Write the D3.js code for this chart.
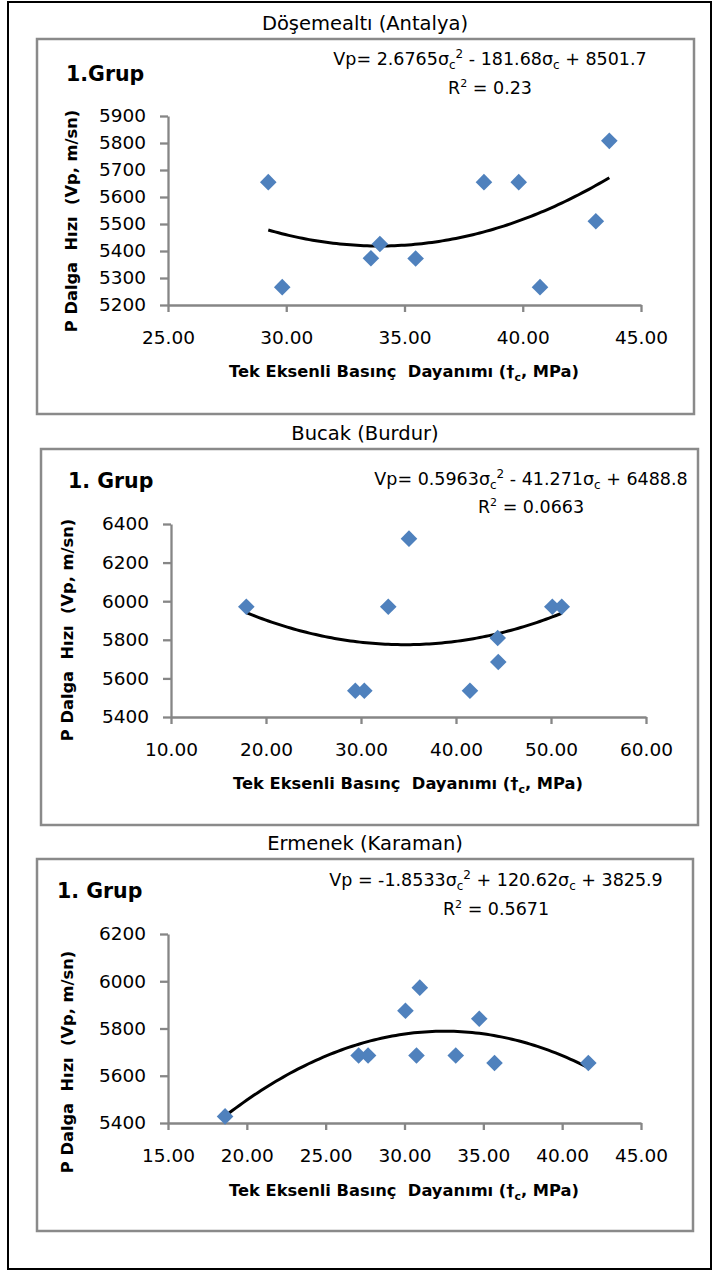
<!DOCTYPE html>
<html>
<head>
<meta charset="utf-8">
<script src="https://cdn.jsdelivr.net/npm/d3@7"></script>
<style>
  body { margin: 0; background: #fff; }
  svg { display: block; }
  .axis path, .axis line { stroke: #868686; stroke-width: 2.3; fill: none; }
  .axis text { font: 18.5px "DejaVu Sans"; fill: #000; }
  .ttl { font: 19.5px "DejaVu Sans"; }
  .eq { font: 17.5px "DejaVu Sans"; }
  .grp { font: bold 20.5px "DejaVu Sans"; }
  .atitle { font: bold 16.3px "DejaVu Sans"; }
</style>
</head>
<body>
<svg id="chart" width="715" height="1271"></svg>
<script>
// chart values
const siteTitles = ['Döşemealtı (Antalya)', 'Bucak (Burdur)', 'Ermenek (Karaman)'];
const groupLabels = ['1.Grup', '1. Grup', '1. Grup'];
const eqPrefix = ['Vp= ', 'Vp= ', 'Vp = '];
const eqA = ['2.6765', '0.5963', '-1.8533'];
const eqB = [' - 181.68', ' - 41.271', ' + 120.62'];
const eqC = [' + 8501.7', ' + 6488.8', ' + 3825.9'];
const r2Labels = ['0.23', '0.0663', '0.5671'];
const trendCoefs = [
  [2.6765, -181.68, 8501.7],
  [0.5963, -41.271, 6488.8],
  [-1.8533, 120.62, 3825.9]
];

const xTicks1 = [25, 30, 35, 40, 45];
const yTicks1 = [5200, 5300, 5400, 5500, 5600, 5700, 5800, 5900];
const sigma1 = [29.24, 29.83, 33.58, 33.96, 35.47, 38.36, 39.83, 40.73, 43.09, 43.66];
const vp1 = [5655, 5266, 5373, 5426, 5372, 5655, 5655, 5266, 5510, 5808];

const xTicks2 = [10, 20, 30, 40, 50, 60];
const yTicks2 = [5400, 5600, 5800, 6000, 6200, 6400];
const sigma2 = [17.93, 29.40, 30.35, 32.87, 35.05, 41.47, 44.39, 44.45, 50.14, 51.13];
const vp2 = [5971, 5536, 5536, 5971, 6324, 5536, 5809, 5685, 5971, 5971];

const xTicks3 = [15, 20, 25, 30, 35, 40, 45];
const yTicks3 = [5400, 5600, 5800, 6000, 6200];
const sigma3 = [18.62, 27.09, 27.69, 30.06, 30.76, 30.97, 33.25, 34.74, 35.71, 41.66];
const vp3 = [5428, 5686, 5686, 5875, 5686, 5973, 5686, 5841, 5654, 5654];

const xTickSets = [xTicks1, xTicks2, xTicks3];
const yTickSets = [yTicks1, yTicks2, yTicks3];
const sigmaSets = [sigma1, sigma2, sigma3];
const vpSets = [vp1, vp2, vp3];

// layout of the three panels (pixels)
const layout = [
  { box: [37, 39, 657, 375], titleY: 29.5, groupX: 66, groupY: 80.5, eqX: 490, eqY: 64.5, r2Y: 93.5,
    x0: 168, x1: 641, yTop: 116, yBot: 305, yTitleX: 77, yTitleY: 221, xTitleX: 404, xTitleY: 377 },
  { box: [41, 449, 657, 376], titleY: 440, groupX: 68, groupY: 487.5, eqX: 531, eqY: 484.5, r2Y: 512.5,
    x0: 171, x1: 646, yTop: 524, yBot: 717, yTitleX: 73, yTitleY: 630, xTitleX: 408, xTitleY: 789 },
  { box: [37, 859, 656, 372], titleY: 850, groupX: 57, groupY: 897.5, eqX: 496, eqY: 885.5, r2Y: 914.5,
    x0: 168, x1: 641, yTop: 934, yBot: 1123, yTitleX: 73, yTitleY: 1062, xTitleX: 404, xTitleY: 1196 }
];

const svg = d3.select('#chart');
svg.append('rect').attr('width', 715).attr('height', 1271).attr('fill', '#fff');
svg.append('rect')
  .attr('x', 8).attr('y', 2).attr('width', 703).attr('height', 1267)
  .attr('fill', 'none').attr('stroke', '#000').attr('stroke-width', 2);

const diamond = d3.symbol(d3.symbolSquare, 138);

layout.forEach((L, i) => {
  const g = svg.append('g');
  const xt = xTickSets[i], yt = yTickSets[i];

  g.append('text').attr('class', 'ttl')
    .attr('x', 365).attr('y', L.titleY).attr('text-anchor', 'middle')
    .text(siteTitles[i]);

  g.append('rect')
    .attr('x', L.box[0]).attr('y', L.box[1]).attr('width', L.box[2]).attr('height', L.box[3])
    .attr('fill', '#fff').attr('stroke', '#8a8a8a').attr('stroke-width', 2.5);

  const x = d3.scaleLinear().domain([xt[0], xt[xt.length - 1]]).range([L.x0, L.x1]);
  const y = d3.scaleLinear().domain([yt[0], yt[yt.length - 1]]).range([L.yBot, L.yTop]);

  g.append('g').attr('class', 'axis')
    .attr('transform', 'translate(0,' + L.yBot + ')')
    .call(d3.axisBottom(x).tickValues(xt).tickSize(7).tickSizeOuter(0).tickFormat(d3.format('.2f')))
    .selectAll('text').attr('y', 38.5).attr('dy', null);

  g.append('g').attr('class', 'axis')
    .attr('transform', 'translate(' + L.x0 + ',0)')
    .call(d3.axisLeft(y).tickValues(yt).tickSize(8).tickSizeOuter(0).tickPadding(14).tickFormat(d3.format('d')));

  // fitted polynomial trendline, drawn over the data range
  const c = trendCoefs[i];
  const xs = sigmaSets[i], ys = vpSets[i];
  const ext = d3.extent(xs);
  const curve = d3.range(0, 101).map(k => {
    const s = ext[0] + (ext[1] - ext[0]) * k / 100;
    return [s, c[0] * s * s + c[1] * s + c[2]];
  });
  g.append('path')
    .datum(curve)
    .attr('fill', 'none').attr('stroke', '#000').attr('stroke-width', 3)
    .attr('d', d3.line().x(d => x(d[0])).y(d => y(d[1])));

  g.append('g').selectAll('path')
    .data(xs.map((s, k) => [s, ys[k]]))
    .join('path')
    .attr('d', diamond)
    .attr('fill', '#4f81bd')
    .attr('transform', d => 'translate(' + x(d[0]) + ',' + y(d[1]) + ') rotate(45)');

  g.append('text').attr('class', 'grp')
    .attr('x', L.groupX).attr('y', L.groupY).text(groupLabels[i]);

  const eq = g.append('text').attr('class', 'eq')
    .attr('x', L.eqX).attr('y', L.eqY).attr('text-anchor', 'middle');
  eq.append('tspan').text(eqPrefix[i] + eqA[i] + 'σ');
  eq.append('tspan').attr('font-size', 12).attr('dy', 4).text('c');
  eq.append('tspan').attr('font-size', 12).attr('dy', -11).text('2');
  eq.append('tspan').attr('dy', 7).text(eqB[i] + 'σ');
  eq.append('tspan').attr('font-size', 12).attr('dy', 4).text('c');
  eq.append('tspan').attr('dy', -4).text(eqC[i]);

  const r2 = g.append('text').attr('class', 'eq')
    .attr('x', L.eqX).attr('y', L.r2Y).attr('text-anchor', 'middle');
  r2.append('tspan').text('R');
  r2.append('tspan').attr('font-size', 11).attr('dy', -7).text('2');
  r2.append('tspan').attr('dy', 7).text(' = ' + r2Labels[i]);

  const xtl = g.append('text').attr('class', 'atitle')
    .attr('x', L.xTitleX).attr('y', L.xTitleY).attr('text-anchor', 'middle')
    .attr('xml:space', 'preserve');
  xtl.append('tspan').text('Tek Eksenli Basınç\u00a0 Dayanımı (†');
  xtl.append('tspan').attr('font-size', 11).attr('dy', 4).text('c');
  xtl.append('tspan').attr('dy', -4).text(', MPa)');

  g.append('text').attr('class', 'atitle')
    .attr('transform', 'translate(' + L.yTitleX + ',' + L.yTitleY + ') rotate(-90)')
    .attr('text-anchor', 'middle')
    .text('P Dalga\u00a0 Hızı\u00a0 (Vp, m/sn)');
});
</script>
</body>
</html>
